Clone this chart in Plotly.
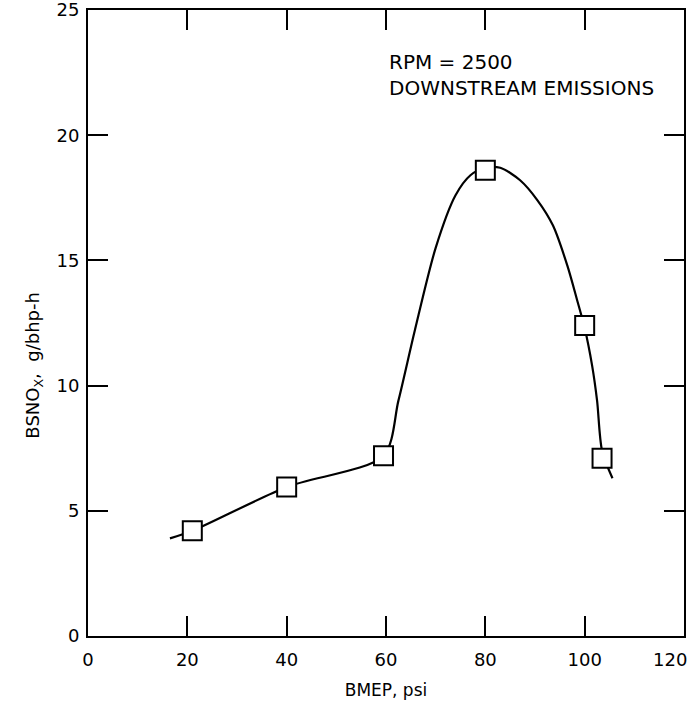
import plotly.graph_objects as go

# measured points (open squares)
bmep = [21, 40, 59.5, 80, 100, 103.5]
bsnox = [4.2, 5.95, 7.2, 18.6, 12.4, 7.1]

# hand-read points along the faired curve
curve_x = [16.5, 21, 40, 59.5, 62.5, 65.8, 70, 74, 77, 80, 83, 87, 90.5, 93.6, 96.5, 98.5, 100, 101.5, 102.5, 103.5, 105.6]
curve_y = [3.9, 4.2, 5.95, 7.2, 9.4, 12.2, 15.5, 17.6, 18.4, 18.7, 18.7, 18.2, 17.4, 16.4, 14.8, 13.4, 12.3, 10.8, 9.4, 7.4, 6.3]

x_ticks = [0, 20, 40, 60, 80, 100, 120]
# the last label is drawn separately, pulled left so it stays inside the window as in the scan
x_labels = ["0", "20", "40", "60", "80", "100", ""]
last_x_label = "120"
y_ticks = [0, 5, 10, 15, 20, 25]

fig = go.Figure()

fig.add_trace(go.Scatter(
    x=curve_x, y=curve_y,
    mode="lines",
    line=dict(color="black", width=2.2, shape="spline", smoothing=0.8),
    hoverinfo="skip",
    showlegend=False,
))

fig.add_trace(go.Scatter(
    x=bmep, y=bsnox,
    mode="markers",
    marker=dict(symbol="square", size=19, color="white",
                line=dict(color="black", width=2)),
    showlegend=False,
))

fig.add_annotation(
    x=60.2, y=23.5, xref="x", yref="y",
    text="RPM = 2500<br>DOWNSTREAM EMISSIONS",
    showarrow=False, xanchor="left", yanchor="top", align="left",
    font=dict(size=20, color="black"),
)

# y title placed as an annotation so it sits a bit below centre, as in the scan
fig.add_annotation(
    x=-0.114, y=10.8, xref="paper", yref="y",
    text="BSNO<sub>X</sub>,  g/bhp-h",
    textangle=-90, showarrow=False,
    font=dict(size=18, color="black"),
)

fig.add_annotation(
    x=1.008, y=-0.037, xref="paper", yref="paper",
    text=last_x_label, showarrow=False,
    xanchor="right", yanchor="middle",
    font=dict(size=18, color="black"),
)

axis_style = dict(
    showline=True, linecolor="black", linewidth=2, mirror="ticks",
    ticks="inside", ticklen=20, tickwidth=2, tickcolor="black",
    showgrid=False, zeroline=False, automargin=False,
    ticklabeloverflow="allow",
    tickfont=dict(size=18, color="black"),
)

fig.update_xaxes(
    range=[0, 120], tickvals=x_ticks, ticktext=x_labels, ticklabelstandoff=6,
    title=dict(text="BMEP, psi", font=dict(size=17, color="black"), standoff=16),
    **axis_style,
)
fig.update_yaxes(
    range=[0, 25], tickvals=y_ticks, ticklabelstandoff=3,
    **axis_style,
)

fig.update_layout(
    width=691, height=707,
    margin=dict(l=88, r=7, t=10, b=71),
    paper_bgcolor="white", plot_bgcolor="white",
    font=dict(family="DejaVu Sans", color="black"),
)

# drop the default 8px page margin so the figure fills the window exactly
fig.write_html("out.html", config={"displayModeBar": False},
               post_script="document.body.style.margin='0';")
